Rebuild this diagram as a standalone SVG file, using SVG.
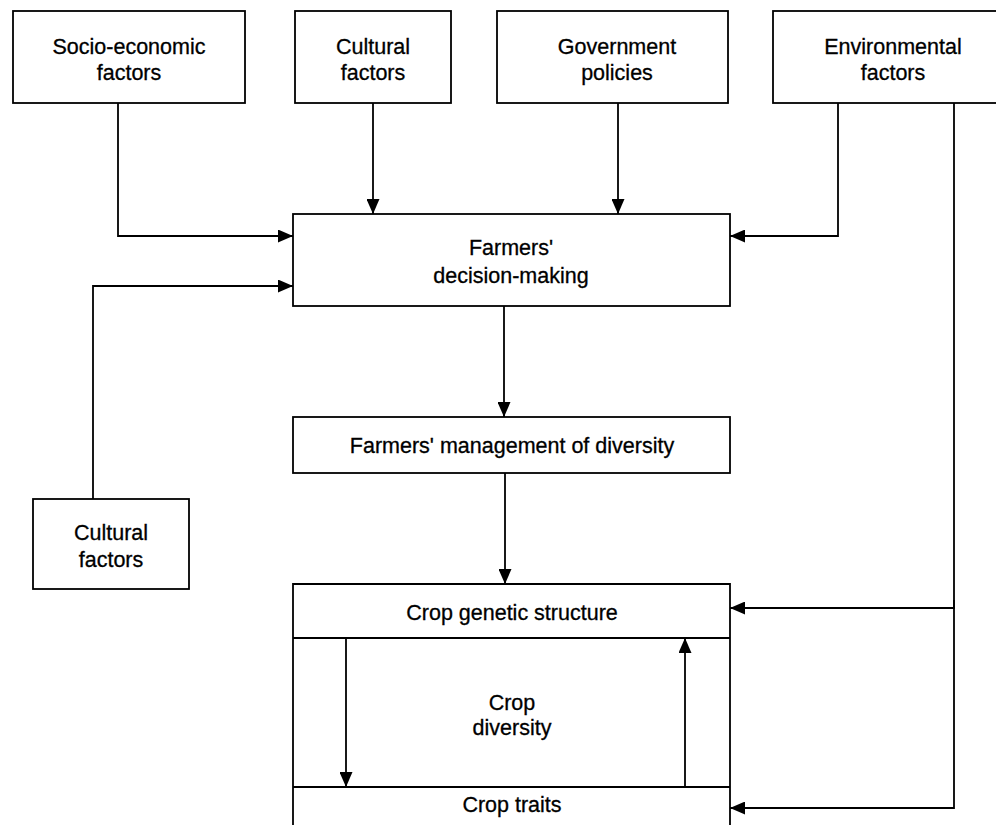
<svg xmlns="http://www.w3.org/2000/svg" width="996" height="825" viewBox="0 0 996 825">
<style>
.box{fill:#fff;stroke:#000;stroke-width:1.8}
.t{font-family:"Liberation Sans",Arial,sans-serif;font-size:21.5px;fill:#000;text-anchor:middle;stroke:#000;stroke-width:0.3}
.c{fill:none;stroke:#000;stroke-width:1.8}
</style>
<defs>
<marker id="ah" markerUnits="userSpaceOnUse" markerWidth="15" markerHeight="13" refX="15" refY="6.5" orient="auto">
<path d="M0,0 L15,6.5 L0,13 z" fill="#000"/>
</marker>
</defs>
<rect width="996" height="825" fill="#fff"/>
<g id="connectors">
<polyline class="c" points="118,103 118,236 293,236" marker-end="url(#ah)"/>
<line class="c" x1="373" y1="103" x2="373" y2="214" marker-end="url(#ah)"/>
<line class="c" x1="618" y1="103" x2="618" y2="214" marker-end="url(#ah)"/>
<polyline class="c" points="838,103 838,236 730,236" marker-end="url(#ah)"/>
<polyline class="c" points="93,499 93,286 293,286" marker-end="url(#ah)"/>
<line class="c" x1="504" y1="306" x2="504" y2="417" marker-end="url(#ah)"/>
<line class="c" x1="505" y1="473" x2="505" y2="584" marker-end="url(#ah)"/>
<polyline class="c" points="954,103 954,608 730,608" marker-end="url(#ah)"/>
<polyline class="c" points="954,600 954,808 730,808" marker-end="url(#ah)"/>
<line class="c" x1="346" y1="638" x2="346" y2="787" marker-end="url(#ah)"/>
<line class="c" x1="685" y1="787" x2="685" y2="638" marker-end="url(#ah)"/>
</g>
<g id="socio">
<rect class="box" x="13" y="11" width="232" height="92"/>
<text class="t" x="129" y="54">Socio-economic</text>
<text class="t" x="129" y="80">factors</text>
</g>
<g id="cultural-top">
<rect class="box" x="295" y="11" width="156" height="92"/>
<text class="t" x="373" y="54">Cultural</text>
<text class="t" x="373" y="80">factors</text>
</g>
<g id="government">
<rect class="box" x="497" y="11" width="231" height="92"/>
<text class="t" x="617" y="54">Government</text>
<text class="t" x="617" y="80">policies</text>
</g>
<g id="environmental">
<rect class="box" x="773" y="11" width="230" height="92"/>
<text class="t" x="893" y="54">Environmental</text>
<text class="t" x="893" y="80">factors</text>
</g>
<g id="decision">
<rect class="box" x="293" y="214" width="437" height="92"/>
<text class="t" x="511" y="255">Farmers'</text>
<text class="t" x="511" y="283">decision-making</text>
</g>
<g id="management">
<rect class="box" x="293" y="417" width="437" height="56"/>
<text class="t" x="512" y="453">Farmers' management of diversity</text>
</g>
<g id="cultural-left">
<rect class="box" x="33" y="499" width="156" height="90"/>
<text class="t" x="111" y="540">Cultural</text>
<text class="t" x="111" y="567">factors</text>
</g>
<g id="crop">
<path class="c" d="M293,830 L293,584 L730,584 L730,830"/>
<line class="c" x1="293" y1="638" x2="730" y2="638"/>
<line class="c" x1="293" y1="787" x2="730" y2="787"/>
<text class="t" x="512" y="620">Crop genetic structure</text>
<text class="t" x="512" y="710">Crop</text>
<text class="t" x="512" y="735">diversity</text>
<text class="t" x="512" y="812">Crop traits</text>
</g>
</svg>
